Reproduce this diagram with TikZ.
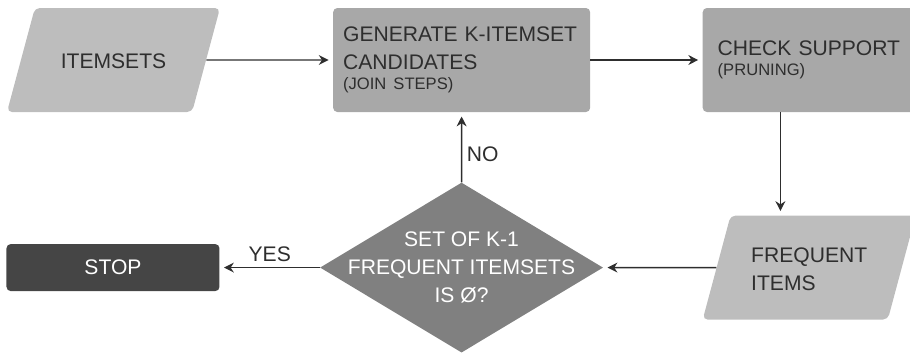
\documentclass[tikz,border=0pt]{standalone}
\usepackage{fontspec}
\setmainfont{Liberation Sans}
\usetikzlibrary{positioning,shapes.geometric,arrows.meta}
\definecolor{lightfill}{HTML}{BDBDBD}
\definecolor{midfill}{HTML}{A8A8A8}
\definecolor{darkfill}{HTML}{808080}
\definecolor{stopfill}{HTML}{454545}
\definecolor{inkgray}{HTML}{2E2E2E}
\newcommand{\notesize}{\fontsize{11.8}{14}\selectfont}

\begin{document}
\begin{tikzpicture}[
  every node/.style={font=\fontsize{15}{20}\selectfont, text=inkgray},
  iobox/.style={trapezium, trapezium left angle=75, trapezium right angle=105,
                trapezium stretches body=true, fill=lightfill, rounded corners=3.5pt,
                inner ysep=0pt, minimum width=5.325cm, minimum height=2.6cm, align=left},
  procbox/.style={rectangle, rounded corners=3pt, fill=midfill,
                  minimum height=2.6cm, align=left},
  decbox/.style={diamond, fill=darkfill, minimum width=7.075cm,
                 minimum height=4.25cm, inner sep=0pt},
  stopbox/.style={rectangle, rounded corners=3pt, fill=stopfill, text=white,
                  minimum width=5.325cm, minimum height=1.175cm},
  arr/.style={-{Stealth[length=7pt, width=7pt]}, line width=1pt, draw=inkgray,
              shorten >=3pt}
]
\useasboundingbox (-2.8375,1.5) rectangle (19.9125,-7.325);

\node[iobox, text height=1.5cm, text depth=1.1cm]        (items) {ITEMSETS};
\node[procbox, text width=5.925cm, inner xsep=0.25cm,
      right=3.1625cm of items]                 (gen)   {GENERATE~K-ITEMSET\\CANDIDATES\\[-5.8pt]{\notesize (JOIN STEPS)}};
\node[procbox, text width=4.575cm, inner xsep=0.375cm,
      right=2.8cm of gen]                      (check) {CHECK~SUPPORT\\[-5.8pt]{\notesize (PRUNING)}};
\node[iobox, text height=1.875cm, text depth=0.725cm,
      below=2.575cm of check]                  (freq)  {FREQUENT\\ITEMS};
\node[decbox, left=2.825cm of freq]            (dec)   {};
\node[text=white, align=center] at (dec)       (dectext) {SET OF K-1\\FREQUENT ITEMSETS\\IS Ø?};
\node[stopbox, left=2.5cm of dec]              (stop)  {STOP};
\coordinate[right=1.95cm of check.south west]  (cs);

\draw[arr] (items) -- (gen);
\draw[arr] (gen)   -- (check);
\draw[arr] (cs)    -- (cs |- freq.north);
\draw[arr] (freq)  -- (dec);
\draw[arr] (dec)   -- node[above] {YES} (stop);
\draw[arr] (dec)   -- node[right, pos=0.4] {NO} (gen);

\end{tikzpicture}
\end{document}
